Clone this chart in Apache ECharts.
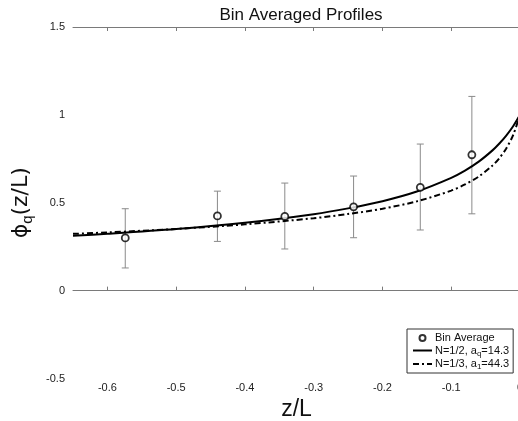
<!DOCTYPE html>
<html>
<head>
<meta charset="utf-8">
<script src="https://cdn.jsdelivr.net/npm/echarts@6/dist/echarts.min.js"></script>
<style>
  html, body { margin: 0; padding: 0; background: #fff; }
  #chart { width: 518px; height: 421px; }
</style>
</head>
<body>
<div id="chart"></div>
<script>
// Stability function profiles phi_q(z/L)
const zL         = [-0.65, -0.6, -0.5, -0.4, -0.3, -0.25, -0.2, -0.15, -0.1, -0.08, -0.06, -0.04, -0.03, -0.02, -0.01, 0];
const phiHalf    = [0.312, 0.323, 0.350, 0.386, 0.435, 0.468, 0.509, 0.564, 0.642, 0.683, 0.734, 0.798, 0.837, 0.882, 0.935, 1.0];
const phiThird   = [0.323, 0.331, 0.351, 0.377, 0.412, 0.436, 0.466, 0.508, 0.569, 0.604, 0.649, 0.712, 0.754, 0.809, 0.885, 1.0];

// Bin averages with spread
const binX  = [-0.574, -0.44, -0.342, -0.242, -0.145, -0.07];
const binY  = [0.30, 0.425, 0.422, 0.477, 0.588, 0.773];
const binLo = [0.129, 0.28, 0.237, 0.301, 0.345, 0.437];
const binHi = [0.466, 0.566, 0.612, 0.652, 0.834, 1.105];

const xTicks = [-0.6, -0.5, -0.4, -0.3, -0.2, -0.1, 0];
const yTicks = [-0.5, 0, 0.5, 1, 1.5];

const names = ['Bin Average', 'N=1/2, a_q=14.3', 'N=1/3, a_1=44.3'];

const FONT = 'Arial, "Liberation Sans", Helvetica, sans-serif';
const AXIS_COLOR = '#7a7a7a';
const LABEL_COLOR = '#222';

const pair = (xs, ys) => xs.map((x, i) => [x, ys[i]]);

const chart = echarts.init(document.getElementById('chart'), null, { renderer: 'canvas' });

const axisCommon = {
  type: 'value',
  axisLine: { show: true, lineStyle: { color: AXIS_COLOR, width: 1 } },
  axisTick: { show: true, inside: true, length: 4, lineStyle: { color: AXIS_COLOR } },
  splitLine: { show: false }
};

// small open circle centred in a square box, so the legend marker stays compact
const smallCircleIcon = 'path://M0,0M20,20M4,10a6,6 0 1,0 12,0a6,6 0 1,0 -12,0';

chart.setOption({
  backgroundColor: '#fff',
  animation: false,
  textStyle: { fontFamily: FONT },
  title: {
    text: 'Bin Averaged Profiles',
    left: 296, top: 2, textAlign: 'center',
    textStyle: { fontFamily: FONT, fontSize: 17, fontWeight: 'normal', color: '#111' }
  },
  grid: { left: 73, top: 27, width: 447, height: 351.5, containLabel: false, outerBoundsMode: 'none' },
  legend: {
    data: [
      { name: names[0], icon: smallCircleIcon },
      { name: names[1], itemStyle: { opacity: 0 } },
      { name: names[2], itemStyle: { opacity: 0 } }
    ],
    orient: 'vertical',
    left: 407, top: 329,
    padding: [3, 4, 2, 5],
    itemGap: 1,
    itemWidth: 19, itemHeight: 10,
    backgroundColor: '#fff',
    borderColor: '#333', borderWidth: 1, borderRadius: 0,
    selectedMode: false,
    textStyle: {
      fontFamily: FONT, fontSize: 11, color: '#111', padding: [0, 0, 0, -2],
      rich: {
        t: { fontFamily: FONT, fontSize: 11, color: '#111' },
        s: { fontFamily: FONT, fontSize: 8, color: '#111', padding: [6, 0, 0, 0] }
      }
    },
    formatter: function (name) {
      const m = name.match(/^(.*a)_(\w)(=.*)$/);
      if (!m) return '{t|' + name + '}';
      return '{t|' + m[1] + '}{s|' + m[2] + '}{t|' + m[3] + '}';
    }
  },
  xAxis: [
    Object.assign({}, axisCommon, {
      min: -0.65, max: 0, position: 'bottom',
      axisTick: Object.assign({}, axisCommon.axisTick, { customValues: xTicks }),
      axisLabel: { customValues: xTicks, color: LABEL_COLOR, fontSize: 11, fontFamily: FONT, margin: 4 },
      name: 'z/L', nameLocation: 'middle', nameGap: 16,
      nameTextStyle: { fontFamily: FONT, fontSize: 23, color: '#111', verticalAlign: 'top' }
    }),
    Object.assign({}, axisCommon, {
      min: -0.65, max: 0, position: 'top',
      axisTick: Object.assign({}, axisCommon.axisTick, { customValues: xTicks }),
      axisLabel: { show: false }
    })
  ],
  yAxis: [
    Object.assign({}, axisCommon, {
      min: -0.5, max: 1.5, interval: 0.5, position: 'left',
      axisLabel: { color: LABEL_COLOR, fontSize: 11, fontFamily: FONT, margin: 8 },
      name: '{a|\u03D5}{s|q}{a|(z/L)}', nameLocation: 'middle', nameGap: 33, nameRotate: 90,
      nameTextStyle: {
        rich: {
          a: { fontFamily: '"DejaVu Sans", ' + FONT, fontSize: 22, color: '#111' },
          s: { fontFamily: FONT, fontSize: 15, color: '#111', padding: [12, 0, 0, 0] }
        }
      }
    })
  ],
  series: [
    {
      name: 'errorbars',
      type: 'custom',
      xAxisIndex: 0,
      data: binX.map((x, i) => [x, binLo[i], binHi[i]]),
      encode: { x: 0, y: [1, 2] },
      silent: true,
      z: 2,
      renderItem: function (params, api) {
        const x = api.value(0);
        const lo = api.coord([x, api.value(1)]);
        const hi = api.coord([x, api.value(2)]);
        const h = 3.5;
        const style = { stroke: '#8a8a8a', lineWidth: 1 };
        return {
          type: 'group',
          children: [
            { type: 'line', shape: { x1: lo[0], y1: lo[1], x2: hi[0], y2: hi[1] }, style: style },
            { type: 'line', shape: { x1: hi[0] - h, y1: hi[1], x2: hi[0] + h, y2: hi[1] }, style: style },
            { type: 'line', shape: { x1: lo[0] - h, y1: lo[1], x2: lo[0] + h, y2: lo[1] }, style: style }
          ]
        };
      }
    },
    {
      name: names[1],
      type: 'line',
      data: pair(zL, phiHalf),
      smooth: 0.3,
      symbol: 'none',
      lineStyle: { color: '#000', width: 2 },
      itemStyle: { color: '#000' },
      z: 3
    },
    {
      name: names[2],
      type: 'line',
      data: pair(zL, phiThird),
      smooth: 0.3,
      symbol: 'none',
      lineStyle: { color: '#000', width: 2, type: [6, 3, 2, 3] },
      itemStyle: { color: '#000' },
      z: 3
    },
    {
      name: names[0],
      type: 'scatter',
      data: pair(binX, binY),
      symbol: 'circle',
      symbolSize: 7,
      itemStyle: { color: '#fff', borderColor: '#000', borderWidth: 1.8 },
      z: 4
    }
  ]
});
</script>
</body>
</html>
